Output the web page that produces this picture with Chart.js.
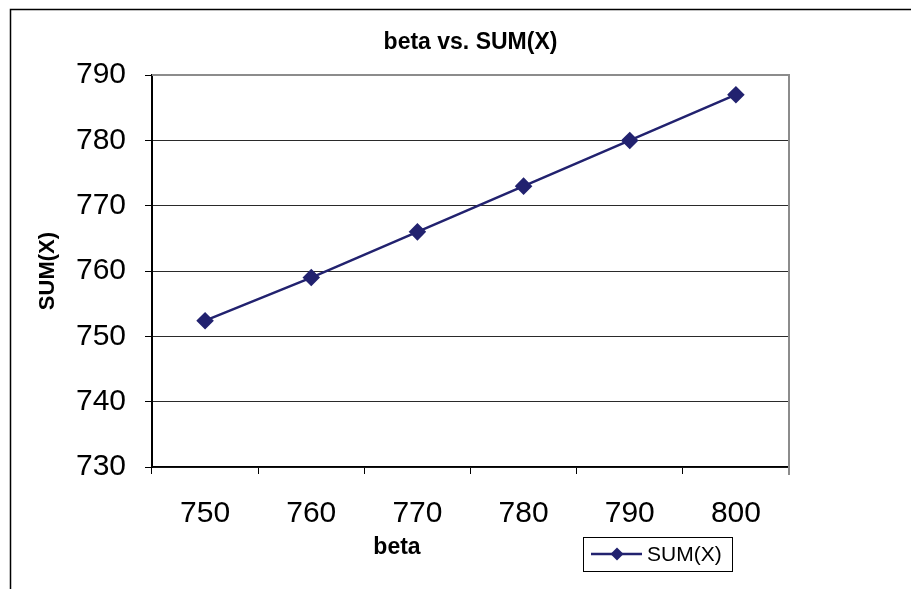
<!DOCTYPE html>
<html>
<head>
<meta charset="utf-8">
<script src="https://cdn.jsdelivr.net/npm/chart.js@4"></script>
<style>
  html, body { margin: 0; padding: 0; background: #fff; }
  #wrap { width: 911px; height: 589px; }
</style>
</head>
<body>
<div id="wrap"><canvas id="chart" width="911" height="589"></canvas></div>
<script>
"use strict";

// Chart data
const betaLabels = ['750', '760', '770', '780', '790', '800'];
const sumXValues = [752.4, 759, 766, 773, 780, 787];
const yTicks = [730, 740, 750, 760, 770, 780, 790];

const FONT = "'Liberation Sans', Arial, sans-serif";
const NAVY = '#22226f';

// Frame, plot border, x title and legend drawn on the canvas
const excelDecor = {
    id: 'excelDecor',
    beforeDraw(chart) {
        const ctx = chart.ctx;
        ctx.save();
        ctx.fillStyle = '#fff';
        ctx.fillRect(0, 0, chart.width, chart.height);
        ctx.strokeStyle = '#000';
        ctx.lineWidth = 1.5;
        ctx.beginPath();
        ctx.moveTo(10.5, chart.height + 2);
        ctx.lineTo(10.5, 9.5);
        ctx.lineTo(chart.width + 2, 9.5);
        ctx.stroke();
        ctx.restore();
    },
    afterDraw(chart) {
        const ctx = chart.ctx;
        const a = chart.chartArea;
        ctx.save();
        // gray plot border on top and right
        ctx.strokeStyle = '#8c8c8c';
        ctx.lineWidth = 2;
        ctx.beginPath();
        ctx.moveTo(a.left, a.top);
        ctx.lineTo(a.right, a.top);
        ctx.lineTo(a.right, a.bottom + 8);
        ctx.stroke();

        // x axis title
        ctx.fillStyle = '#000';
        ctx.font = 'bold 23px ' + FONT;
        ctx.textAlign = 'center';
        ctx.textBaseline = 'middle';
        ctx.fillText('beta', 397, 548);

        // legend
        ctx.strokeStyle = '#000';
        ctx.lineWidth = 1;
        ctx.strokeRect(583.5, 537.5, 149, 34);
        const ly = 554;
        ctx.strokeStyle = NAVY;
        ctx.lineWidth = 2.5;
        ctx.beginPath();
        ctx.moveTo(591, ly);
        ctx.lineTo(642, ly);
        ctx.stroke();
        ctx.fillStyle = NAVY;
        ctx.beginPath();
        ctx.moveTo(617, ly - 6.5);
        ctx.lineTo(623.5, ly);
        ctx.lineTo(617, ly + 6.5);
        ctx.lineTo(610.5, ly);
        ctx.closePath();
        ctx.fill();
        ctx.fillStyle = '#000';
        ctx.font = '21px ' + FONT;
        ctx.textAlign = 'left';
        ctx.fillText(chart.data.datasets[0].label, 647, ly + 1);
        ctx.restore();
    }
};

const ctx = document.getElementById('chart').getContext('2d');
new Chart(ctx, {
    type: 'line',
    data: {
        labels: betaLabels,
        datasets: [{
            label: 'SUM(X)',
            data: sumXValues,
            borderColor: NAVY,
            backgroundColor: NAVY,
            borderWidth: 2.5,
            pointStyle: 'rectRot',
            pointRadius: 7,
            pointHoverRadius: 7,
            tension: 0
        }]
    },
    options: {
        responsive: false,
        animation: false,
        layout: { padding: { left: 0, right: 122, top: 0, bottom: 0 } },
        plugins: {
            legend: { display: false },
            tooltip: { enabled: false },
            title: {
                display: true,
                fullSize: false,
                text: 'beta vs. SUM(X)',
                color: '#000',
                font: { family: FONT, size: 23, weight: 'bold' },
                padding: { top: 28.5, bottom: 19 }
            }
        },
        scales: {
            x: {
                type: 'category',
                offset: true,
                afterFit(scale) { scale.height = 122; },
                grid: {
                    offset: true,
                    drawOnChartArea: false,
                    drawTicks: true,
                    tickLength: 7,
                    color: '#000',
                    lineWidth: 1
                },
                border: { color: '#000', width: 1.5 },
                ticks: {
                    color: '#000',
                    font: { family: FONT, size: 30 },
                    padding: 22,
                    maxRotation: 0
                }
            },
            y: {
                min: 730,
                max: 790,
                afterFit(scale) { scale.width = 152; },
                afterBuildTicks(scale) {
                    scale.ticks = yTicks.map(v => ({ value: v }));
                },
                grid: {
                    color: '#2a2a2a',
                    lineWidth: 1,
                    drawTicks: true,
                    tickLength: 7,
                    tickColor: '#000'
                },
                border: { color: '#000', width: 2 },
                ticks: {
                    color: '#000',
                    font: { family: FONT, size: 30 },
                    padding: 19
                },
                title: {
                    display: true,
                    text: 'SUM(X)',
                    color: '#000',
                    font: { family: FONT, size: 22, weight: 'bold' },
                    padding: { top: 35, bottom: 0 }
                }
            }
        }
    },
    plugins: [excelDecor]
});
</script>
</body>
</html>
